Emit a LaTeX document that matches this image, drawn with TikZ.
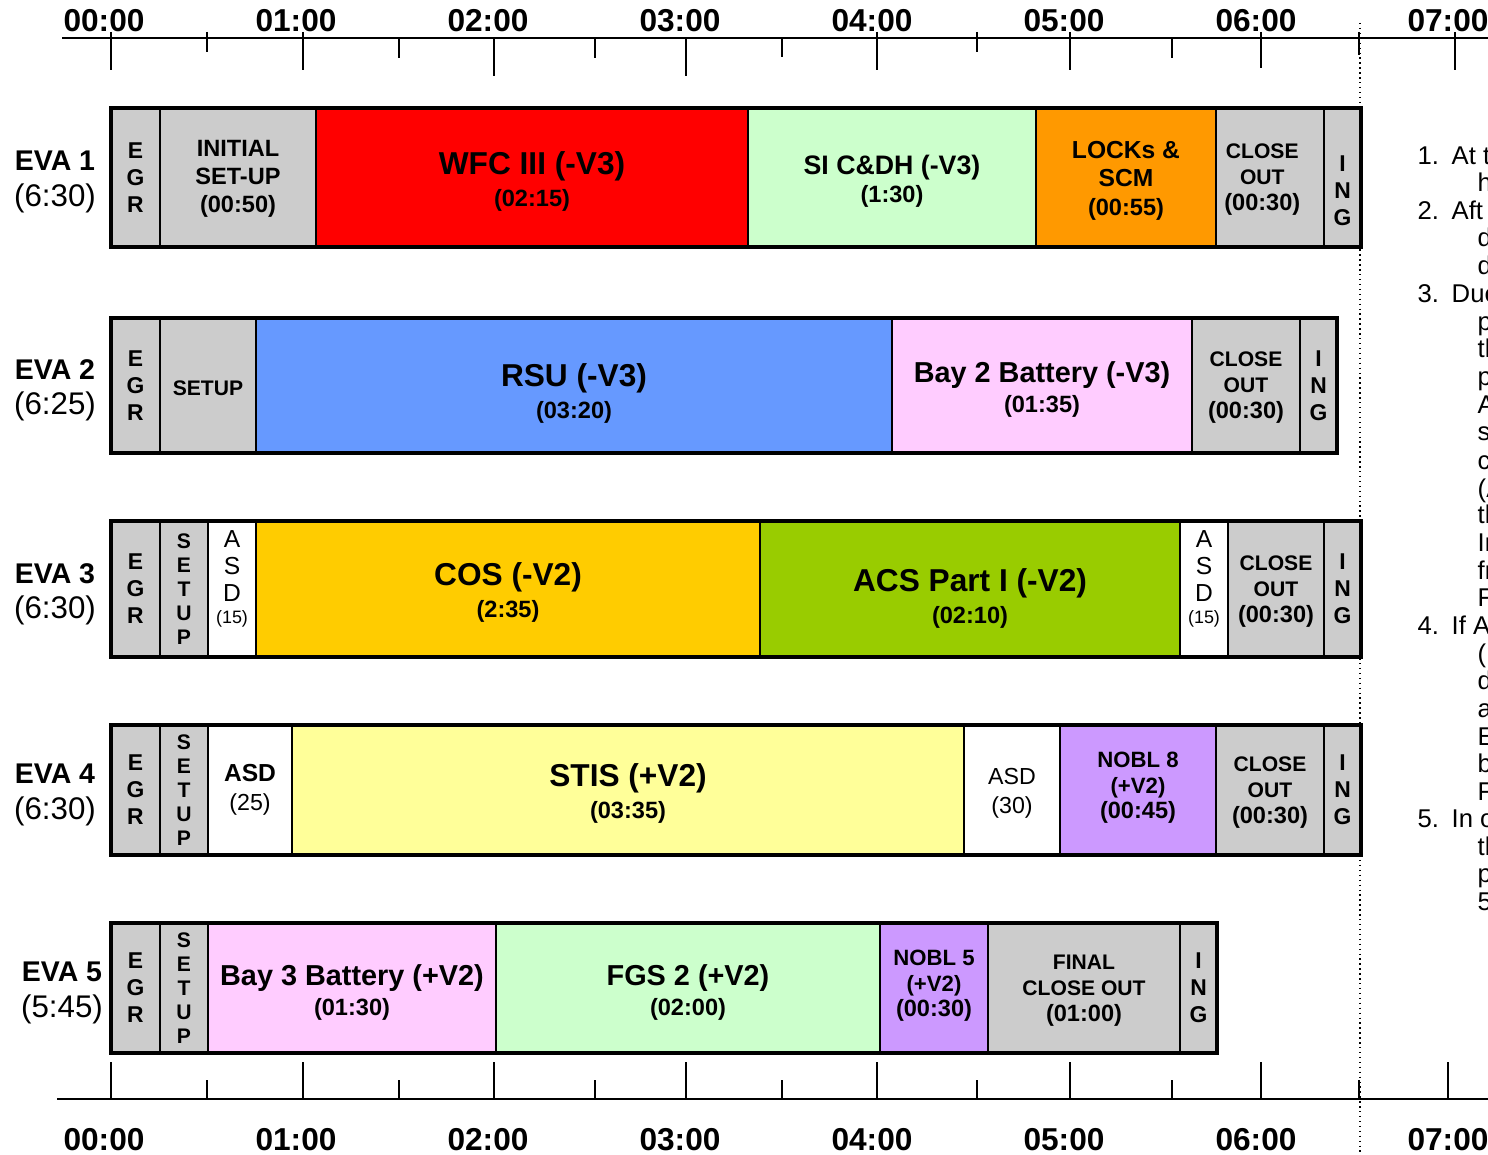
\documentclass[tikz,border=0pt]{standalone}
\usepackage{fontspec}
\setmainfont{Liberation Sans}
\usetikzlibrary{positioning}

\definecolor{setgray}{HTML}{CCCCCC}
\definecolor{wfcred}{HTML}{FF0000}
\definecolor{paleg}{HTML}{CCFFCC}
\definecolor{lockorange}{HTML}{FF9900}
\definecolor{rsublue}{HTML}{6699FF}
\definecolor{batpink}{HTML}{FFCCFF}
\definecolor{cosyellow}{HTML}{FFCC00}
\definecolor{acsgreen}{HTML}{99CC00}
\definecolor{stisyellow}{HTML}{FFFF99}
\definecolor{noblpurple}{HTML}{CC99FF}

\tikzset{
  cell/.style={draw=black, line width=0.8pt},
  barframe/.style={draw=black, line width=1.4pt},
  slottext/.style={inner sep=0pt, align=center},
  axisline/.style={line width=0.7pt},
  tick/.style={line width=0.5pt},
  axisnum/.style={inner sep=0pt, font=\bfseries\fontsize{9}{11}\selectfont},
  evaname/.style={inner sep=0pt, align=center, yshift=-1.4pt, font=\fontsize{8.9}{10}\selectfont},
  title/.style={yshift=-1.1pt, font=\bfseries\fontsize{9}{9.1}\selectfont},
  midtitle/.style={yshift=-1.2pt, font=\bfseries\fontsize{8.2}{8.5}\selectfont},
  smalltitle/.style={yshift=-1pt, font=\bfseries\fontsize{7.6}{8}\selectfont},
  locktext/.style={yshift=-0.9pt, font=\bfseries\fontsize{7}{8.1}\selectfont},
  boxtext/.style={yshift=-0.4pt, font=\bfseries\fontsize{6.7}{8}\selectfont},
  closetext/.style={yshift=-0.7pt, font=\bfseries\fontsize{6}{7.4}\selectfont},
  nobltext/.style={yshift=0.6pt, font=\bfseries\fontsize{6.3}{7.3}\selectfont},
  letters/.style={font=\bfseries\fontsize{6.5}{7.7}\selectfont},
  setupletters/.style={font=\bfseries\fontsize{6}{6.8}\selectfont},
  asdtext/.style={yshift=2.8pt, font=\fontsize{7}{7.7}\selectfont},
  asdwide/.style={font=\fontsize{6.6}{8.2}\selectfont},
  note/.style={inner sep=0pt, anchor=base west, font=\fontsize{7.3}{8}\selectfont}
}

% one coloured cell of an EVA bar: name, left, right, fill, text options, text
\newcommand{\evaslot}[6]{%
  \draw[cell, fill=#4] (#2,\rtop) rectangle (#3,\rbot);
  \node[slottext, #5] (#1) at ({(#2+#3)/2},{(\rtop+\rbot)/2}) {#6};}
\newcommand{\dur}[1]{{\bfseries\fontsize{6.7}{8}\selectfont #1}}
\newcommand{\evalabel}[1]{{\bfseries\fontsize{8.1}{10}\selectfont #1}}

\begin{document}
\begin{tikzpicture}[x=0.01cm, y=-0.01cm]
  \useasboundingbox (0,0) rectangle (1488,1155);
  \clip (0,0) rectangle (1488,1155);

  % top time axis
  \node[axisnum] (ta0) at (104,21) {00:00};
  \node[axisnum] (ta1) at (296,21) {01:00};
  \node[axisnum] (ta2) at (488,21) {02:00};
  \node[axisnum] (ta3) at (680,21) {03:00};
  \node[axisnum] (ta4) at (872,21) {04:00};
  \node[axisnum] (ta5) at (1064,21) {05:00};
  \node[axisnum] (ta6) at (1256,21) {06:00};
  \node[axisnum] (ta7) at (1448,21) {07:00};
  \draw[axisline] (62,38) -- (1488,38);
  \draw[tick] (111,32) -- (111,70) (303,32) -- (303,70) (494,38) -- (494,76)
              (686,38) -- (686,76) (877,32) -- (877,70) (1070,32) -- (1070,70)
              (1261,32) -- (1261,68) (1455,32) -- (1455,70);
  \draw[tick] (207,32) -- (207,52) (399,38) -- (399,58) (595,38) -- (595,58)
              (782,38) -- (782,57) (977,32) -- (977,52) (1172,38) -- (1172,58)
              (1359,32) -- (1359,55);

  % end of the planned day
  \draw[densely dotted, line width=0.4pt] (1360,23) -- (1360,1155);

  % EVA 1
  \def\rtop{108}\def\rbot{247}
  \evaslot{egra}{111}{160}{setgray}{letters}{E\\G\\R}
  \evaslot{inita}{160}{316}{setgray}{boxtext}{INITIAL\\SET-UP\\(00:50)}
  \evaslot{wfc}{316}{748}{wfcred}{title}{WFC III (-V3)\\\dur{(02:15)}}
  \evaslot{sicdh}{748}{1036}{paleg}{smalltitle}{SI C\&DH (-V3)\\\dur{(1:30)}}
  \evaslot{locks}{1036}{1216}{lockorange}{locktext}{LOCKs \&\\SCM\\\dur{(00:55)}}
  \evaslot{closea}{1216}{1324}{setgray}{closetext, xshift=-2.2pt}{CLOSE\\OUT\\\dur{(00:30)}}
  \evaslot{inga}{1324}{1361}{setgray}{letters, yshift=-3.7pt}{I\\N\\G}
  \draw[barframe] (111,\rtop) rectangle (1361,\rbot);
  \node[evaname] (eva1) at (55,177) {\evalabel{EVA 1}\\(6:30)};

  % EVA 2
  \def\rtop{318}\def\rbot{453}
  \evaslot{egrb}{111}{160}{setgray}{letters}{E\\G\\R}
  \evaslot{setupb}{160}{256}{setgray}{closetext}{SETUP}
  \evaslot{rsu}{256}{892}{rsublue}{title, yshift=-1.2pt}{RSU (-V3)\\\dur{(03:20)}}
  \evaslot{baytwo}{892}{1192}{batpink}{midtitle}{Bay 2 Battery (-V3)\\\dur{(01:35)}}
  \evaslot{closeb}{1192}{1300}{setgray}{closetext}{CLOSE\\OUT\\\dur{(00:30)}}
  \evaslot{ingb}{1300}{1337}{setgray}{letters}{I\\N\\G}
  \draw[barframe] (111,\rtop) rectangle (1337,\rbot);
  \node[evaname] (eva2) at (55,385) {\evalabel{EVA 2}\\(6:25)};

  % EVA 3
  \def\rtop{521}\def\rbot{657}
  \evaslot{egrc}{111}{160}{setgray}{letters}{E\\G\\R}
  \evaslot{setupc}{160}{208}{setgray}{setupletters}{S\\E\\T\\U\\P}
  \evaslot{asdc}{208}{256}{white}{asdtext}{A\\S\\D\\[-1.4pt]{\fontsize{5.1}{6}\selectfont(15)}}
  \evaslot{cos}{256}{760}{cosyellow}{title}{COS (-V2)\\\dur{(2:35)}}
  \evaslot{acs}{760}{1180}{acsgreen}{title, yshift=-1.5pt}{ACS Part I (-V2)\\\dur{(02:10)}}
  \evaslot{asdcc}{1180}{1228}{white}{asdtext}{A\\S\\D\\[-1.4pt]{\fontsize{5.1}{6}\selectfont(15)}}
  \evaslot{closec}{1228}{1324}{setgray}{closetext}{CLOSE\\OUT\\\dur{(00:30)}}
  \evaslot{ingc}{1324}{1361}{setgray}{letters}{I\\N\\G}
  \draw[barframe] (111,\rtop) rectangle (1361,\rbot);
  \node[evaname] (eva3) at (55,589) {\evalabel{EVA 3}\\(6:30)};

  % EVA 4
  \def\rtop{725}\def\rbot{855}
  \evaslot{egrd}{111}{160}{setgray}{letters}{E\\G\\R}
  \evaslot{setupd}{160}{208}{setgray}{setupletters}{S\\E\\T\\U\\P}
  \evaslot{asdd}{208}{292}{white}{asdwide}{{\bfseries\fontsize{7}{8}\selectfont ASD}\\(25)}
  \evaslot{stis}{292}{964}{stisyellow}{title}{STIS (+V2)\\\dur{(03:35)}}
  \evaslot{asde}{964}{1060}{white}{asdwide, yshift=-1pt}{ASD\\(30)}
  \evaslot{nobleight}{1060}{1216}{noblpurple}{nobltext}{NOBL 8\\(+V2)\\\dur{(00:45)}}
  \evaslot{closed}{1216}{1324}{setgray}{closetext}{CLOSE\\OUT\\\dur{(00:30)}}
  \evaslot{ingd}{1324}{1361}{setgray}{letters}{I\\N\\G}
  \draw[barframe] (111,\rtop) rectangle (1361,\rbot);
  \node[evaname] (eva4) at (55,790) {\evalabel{EVA 4}\\(6:30)};

  % EVA 5
  \def\rtop{923}\def\rbot{1053}
  \evaslot{egre}{111}{160}{setgray}{letters}{E\\G\\R}
  \evaslot{setupe}{160}{208}{setgray}{setupletters}{S\\E\\T\\U\\P}
  \evaslot{baythree}{208}{496}{batpink}{midtitle}{Bay 3 Battery (+V2)\\\dur{(01:30)}}
  \evaslot{fgs}{496}{880}{paleg}{midtitle}{FGS 2 (+V2)\\\dur{(02:00)}}
  \evaslot{noblfive}{880}{988}{noblpurple}{nobltext}{NOBL 5\\(+V2)\\\dur{(00:30)}}
  \evaslot{final}{988}{1180}{setgray}{closetext}{FINAL\\CLOSE OUT\\\dur{(01:00)}}
  \evaslot{inge}{1180}{1217}{setgray}{letters}{I\\N\\G}
  \draw[barframe] (111,\rtop) rectangle (1217,\rbot);
  \node[evaname] (eva5) at (62,988) {\evalabel{EVA 5}\\(5:45)};

  % bottom time axis
  \draw[axisline] (57,1099) -- (1488,1099);
  \draw[tick] (111,1062) -- (111,1099) (303,1062) -- (303,1099) (494,1062) -- (494,1099)
              (686,1062) -- (686,1099) (877,1062) -- (877,1099) (1070,1062) -- (1070,1099)
              (1261,1062) -- (1261,1099) (1448,1062) -- (1448,1099);
  \draw[tick] (207,1080) -- (207,1099) (399,1080) -- (399,1099) (595,1080) -- (595,1099)
              (782,1080) -- (782,1099) (977,1080) -- (977,1099) (1172,1080) -- (1172,1099)
              (1359,1080) -- (1359,1099);
  \node[axisnum] (tb0) at (104,1140) {00:00};
  \node[axisnum] (tb1) at (296,1140) {01:00};
  \node[axisnum] (tb2) at (488,1140) {02:00};
  \node[axisnum] (tb3) at (680,1140) {03:00};
  \node[axisnum] (tb4) at (872,1140) {04:00};
  \node[axisnum] (tb5) at (1064,1140) {05:00};
  \node[axisnum] (tb6) at (1256,1140) {06:00};
  \node[axisnum] (tb7) at (1448,1140) {07:00};

  % notes, cut by the page edge
  \node[note] (n1) at (1417,165) {1.};
  \node[note] (n1a) at (1451,165) {At th};
  \node[note] (n1b) at (1477,192) {h};
  \node[note] (n2) at (1417,220) {2.};
  \node[note] (n2a) at (1451,220) {Aft s};
  \node[note] (n2b) at (1477,247) {d};
  \node[note] (n2c) at (1477,275) {d};
  \node[note] (n3) at (1417,303) {3.};
  \node[note] (n3a) at (1451,303) {Due};
  \node[note] (n3b) at (1477,331) {p};
  \node[note] (n3c) at (1477,358) {th};
  \node[note] (n3d) at (1477,386) {p};
  \node[note] (n3e) at (1477,414) {A};
  \node[note] (n3f) at (1477,441) {s};
  \node[note] (n3g) at (1477,469) {c};
  \node[note] (n3h) at (1477,497) {(A};
  \node[note] (n3i) at (1477,524) {th};
  \node[note] (n3j) at (1477,551) {In};
  \node[note] (n3k) at (1477,579) {fr};
  \node[note] (n3l) at (1477,606) {F};
  \node[note] (n4) at (1417,634) {4.};
  \node[note] (n4a) at (1451,634) {If AC};
  \node[note] (n4b) at (1477,662) {(r};
  \node[note] (n4c) at (1477,689) {d};
  \node[note] (n4d) at (1477,717) {a};
  \node[note] (n4e) at (1477,745) {E};
  \node[note] (n4f) at (1477,772) {b};
  \node[note] (n4g) at (1477,800) {F};
  \node[note] (n5) at (1417,827) {5.};
  \node[note] (n5a) at (1451,827) {In o};
  \node[note] (n5b) at (1477,855) {th};
  \node[note] (n5c) at (1477,882) {p};
  \node[note] (n5d) at (1477,910) {5};
\end{tikzpicture}
\end{document}
